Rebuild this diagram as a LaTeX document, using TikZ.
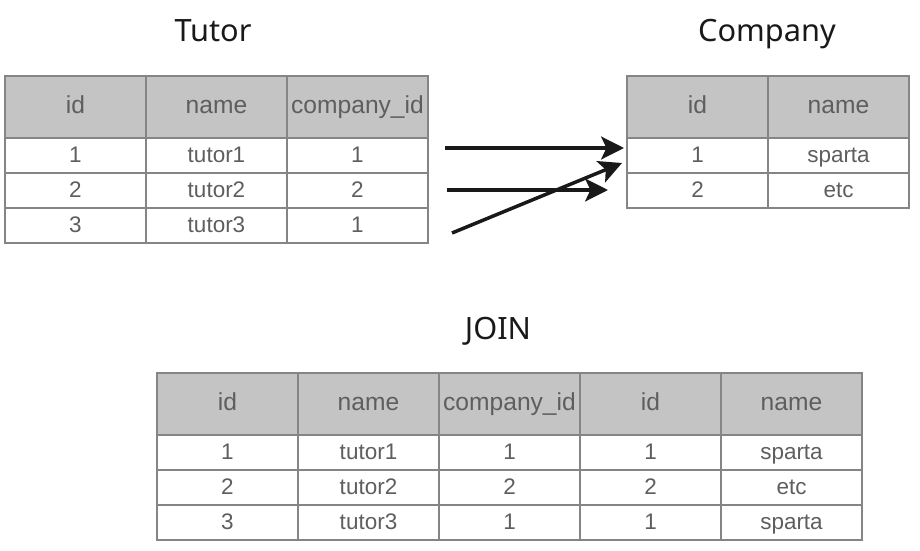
\documentclass[tikz,border=0pt]{standalone}
\usepackage{fontspec}
\setmainfont{Liberation Sans}
\newfontfamily\titlefont{Noto Sans}
\usetikzlibrary{arrows.meta}
\definecolor{headgray}{HTML}{C4C4C4}
\definecolor{linegray}{HTML}{858585}
\definecolor{textgray}{HTML}{5E5E5E}
\tikzset{
    cell/.style={draw=linegray, line width=0.65pt, minimum width=2.82cm, minimum height=0.7cm,
        inner sep=0pt, outer sep=0pt, text=textgray, text height=0.82em, text depth=0pt,
        font=\fontsize{12.8}{14}\selectfont},
    head/.style={cell, fill=headgray, minimum height=1.24cm, text height=0.72em,
        font=\fontsize{14}{16}\selectfont},
    title/.style={anchor=base, text=black!90, font=\titlefont\fontsize{17.5}{20}\selectfont},
    link/.style={-{Stealth[length=13pt,width=13pt,inset=3pt]}, line width=2pt, black!90}
}
\begin{document}
\begin{tikzpicture}[x=0.02cm, y=-0.02cm]
    \useasboundingbox (0,0) rectangle (920,551);
    % titles
    \node[title] (tutorT) at (213,41.5) {Tutor};
    \node[title] (companyT) at (767,41.5) {Company};
    \node[title] (joinT) at (498,339) {JOIN};
    % table Tutor
    \node[head] (tu01) at (75.5,107) {id};
    \node[head] (tu02) at (216.5,107) {name};
    \node[head] (tu03) at (357.5,107) {company\_id};
    \node[cell] (tu11) at (75.5,155.5) {1};
    \node[cell] (tu12) at (216.5,155.5) {tutor1};
    \node[cell] (tu13) at (357.5,155.5) {1};
    \node[cell] (tu21) at (75.5,190.5) {2};
    \node[cell] (tu22) at (216.5,190.5) {tutor2};
    \node[cell] (tu23) at (357.5,190.5) {2};
    \node[cell] (tu31) at (75.5,225.5) {3};
    \node[cell] (tu32) at (216.5,225.5) {tutor3};
    \node[cell] (tu33) at (357.5,225.5) {1};
    % table Company
    \node[head] (co01) at (697.5,107) {id};
    \node[head] (co02) at (838.5,107) {name};
    \node[cell] (co11) at (697.5,155.5) {1};
    \node[cell] (co12) at (838.5,155.5) {sparta};
    \node[cell] (co21) at (697.5,190.5) {2};
    \node[cell] (co22) at (838.5,190.5) {etc};
    % table JOIN
    \node[head] (jo01) at (227.5,404) {id};
    \node[head] (jo02) at (368.5,404) {name};
    \node[head] (jo03) at (509.5,404) {company\_id};
    \node[head] (jo04) at (650.5,404) {id};
    \node[head] (jo05) at (791.5,404) {name};
    \node[cell] (jo11) at (227.5,452.5) {1};
    \node[cell] (jo12) at (368.5,452.5) {tutor1};
    \node[cell] (jo13) at (509.5,452.5) {1};
    \node[cell] (jo14) at (650.5,452.5) {1};
    \node[cell] (jo15) at (791.5,452.5) {sparta};
    \node[cell] (jo21) at (227.5,487.5) {2};
    \node[cell] (jo22) at (368.5,487.5) {tutor2};
    \node[cell] (jo23) at (509.5,487.5) {2};
    \node[cell] (jo24) at (650.5,487.5) {2};
    \node[cell] (jo25) at (791.5,487.5) {etc};
    \node[cell] (jo31) at (227.5,522.5) {3};
    \node[cell] (jo32) at (368.5,522.5) {tutor3};
    \node[cell] (jo33) at (509.5,522.5) {1};
    \node[cell] (jo34) at (650.5,522.5) {1};
    \node[cell] (jo35) at (791.5,522.5) {sparta};
    % arrows
    \coordinate (from1) at (445,148);
    \coordinate (to1) at (624,148);
    \coordinate (from2) at (447,190);
    \coordinate (to2) at (608,190);
    \coordinate (from3) at (452,233);
    \coordinate (to3) at (622,163);
    \draw[link] (from1) -- (to1);
    \draw[link] (from2) -- (to2);
    \draw[link] (from3) -- (to3);
\end{tikzpicture}
\end{document}
